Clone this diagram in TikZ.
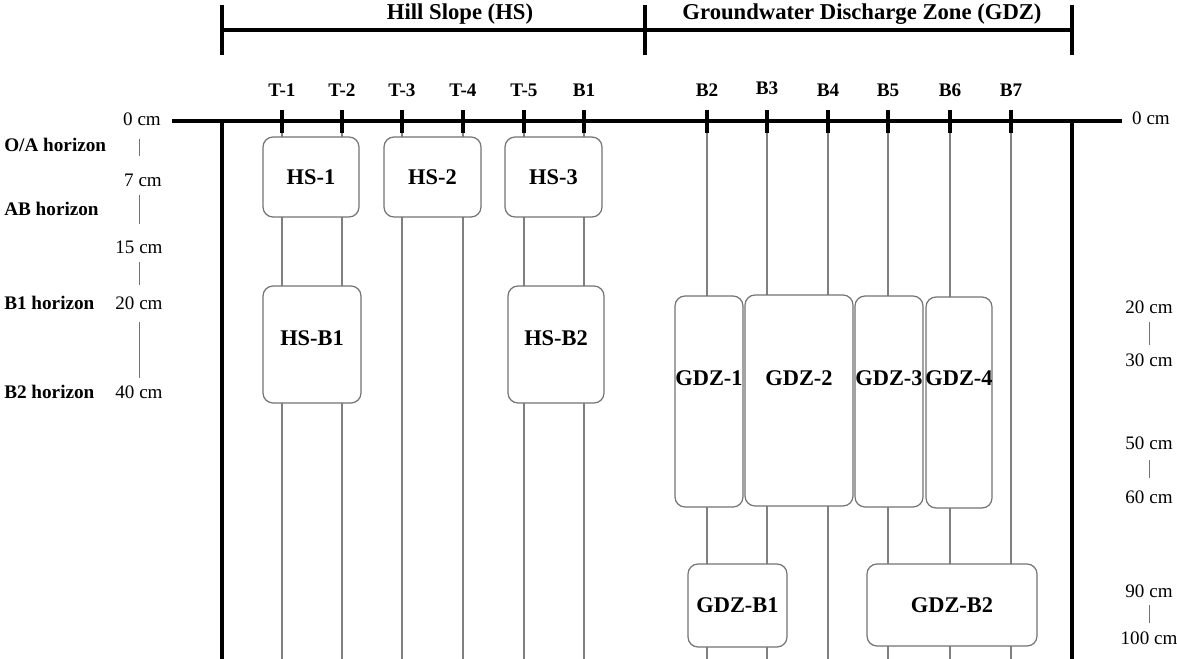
\documentclass[tikz,border=0pt]{standalone}
\usepackage{fontspec}
\setmainfont{Liberation Serif}
\begin{document}
\begin{tikzpicture}[x=0.75pt,y=-0.75pt,
  thick line/.style={line width=2.3pt,black},
  tube/.style={line width=0.8pt,draw=black!50},
  scaleline/.style={line width=0.7pt,draw=black!55},
  box/.style n args={2}{draw=black!55,line width=0.9pt,fill=white,rounded corners=7.5pt,
     minimum width=#1*0.75pt,minimum height=#2*0.75pt,inner sep=0pt,
     font=\fontsize{16.8}{19}\selectfont\bfseries},
  boxlabel/.style={font=\fontsize{16.8}{19}\selectfont\bfseries,inner sep=0pt},
  title/.style={font=\fontsize{17}{20}\selectfont\bfseries,inner sep=0pt},
  tubelabel/.style={font=\fontsize{14.4}{17}\selectfont\bfseries,inner sep=0pt},
  horizon/.style={font=\fontsize{14.4}{17}\selectfont\bfseries,inner sep=0pt,anchor=west},
  depth/.style={font=\fontsize{14.3}{17}\selectfont,inner sep=0pt}]
\useasboundingbox (0,0) rectangle (1177,659);
% titles and bracket
\node[title] (ths) at (460,14) {Hill Slope (HS)};
\node[title] (tgdz) at (862,14) {Groundwater Discharge Zone (GDZ)};
\draw[thick line] (222,30) -- (1072,30);
\draw[thick line] (222,5) -- (222,55);
\draw[thick line] (645,5) -- (645,55);
\draw[thick line] (1072,5) -- (1072,55);
% tubes
\foreach \n/\x/\y in {T-1/282/90,T-2/342/90,T-3/402/90,T-4/463/90,T-5/524/90,B1/584/90,B2/707/90,B3/767/88,B4/828/90,B5/888/90,B6/950/90,B7/1011/90}{
  \coordinate (top\n) at (\x,121);
  \coordinate (bot\n) at (\x,659);
  \draw[tube] (top\n) -- (bot\n);
  \node[tubelabel] (lab\n) at (\x,\y) {\n};
}
% main frame
\draw[thick line] (172,121) -- (1122,121);
\draw[thick line] (222,121) -- (222,659);
\draw[thick line] (1072,121) -- (1072,659);
\foreach \x in {282,342,402,463,524,584,707,767,828,888,950,1011}{
  \draw[thick line] (\x,110) -- (\x,133);
}
% boxes
\node[box={96}{80}] (hs1) at (311,177) {HS-1};
\node[box={97}{80}] (hs2) at (432.5,177) {HS-2};
\node[box={97}{80}] (hs3) at (553.5,177) {HS-3};
\node[box={98}{117},label={[boxlabel,yshift=4.9pt]center:HS-B1}] (hsb1) at (312,344.5) {};
\node[box={96}{117},label={[boxlabel,yshift=4.9pt]center:HS-B2}] (hsb2) at (556,344.5) {};
\node[box={68}{211},label={[boxlabel,yshift=17.6pt]center:GDZ-1}] (gdz1) at (709,401.5) {};
\node[box={108}{211},label={[boxlabel,yshift=16.9pt]center:GDZ-2}] (gdz2) at (799,400.5) {};
\node[box={68}{211},label={[boxlabel,yshift=17.6pt]center:GDZ-3}] (gdz3) at (889,401.5) {};
\node[box={66}{211},label={[boxlabel,yshift=18.4pt]center:GDZ-4}] (gdz4) at (959,402.5) {};
\node[box={99}{83}] (gdzb1) at (737.5,605.5) {GDZ-B1};
\node[box={170}{82}] (gdzb2) at (952,605) {GDZ-B2};
% left scale
\node[horizon] (hOA) at (4,145) {O/A horizon};
\node[horizon] (hAB) at (4,209) {AB horizon};
\node[horizon] (hB1) at (4,303) {B1 horizon};
\node[horizon] (hB2) at (4,392) {B2 horizon};
\node[depth] (l0) at (142,119) {0 cm};
\node[depth] (l7) at (143,180) {7 cm};
\node[depth] (l15) at (139,247) {15 cm};
\node[depth] (l20) at (139,303) {20 cm};
\node[depth] (l40) at (139,392) {40 cm};
\draw[scaleline] (139,139) -- (139,156);
\draw[scaleline] (139,195) -- (139,224);
\draw[scaleline] (139,262) -- (139,285);
\draw[scaleline] (139,322) -- (139,378);
% right scale
\node[depth] (r0) at (1151,118) {0 cm};
\node[depth] (r20) at (1149,307) {20 cm};
\node[depth] (r30) at (1149,360) {30 cm};
\node[depth] (r50) at (1149,443) {50 cm};
\node[depth] (r60) at (1149,497) {60 cm};
\node[depth] (r90) at (1149,591) {90 cm};
\node[depth] (r100) at (1149,638) {100 cm};
\draw[scaleline] (1149,322) -- (1149,345);
\draw[scaleline] (1149,460) -- (1149,478);
\draw[scaleline] (1149,605) -- (1149,623);
\end{tikzpicture}
\end{document}
